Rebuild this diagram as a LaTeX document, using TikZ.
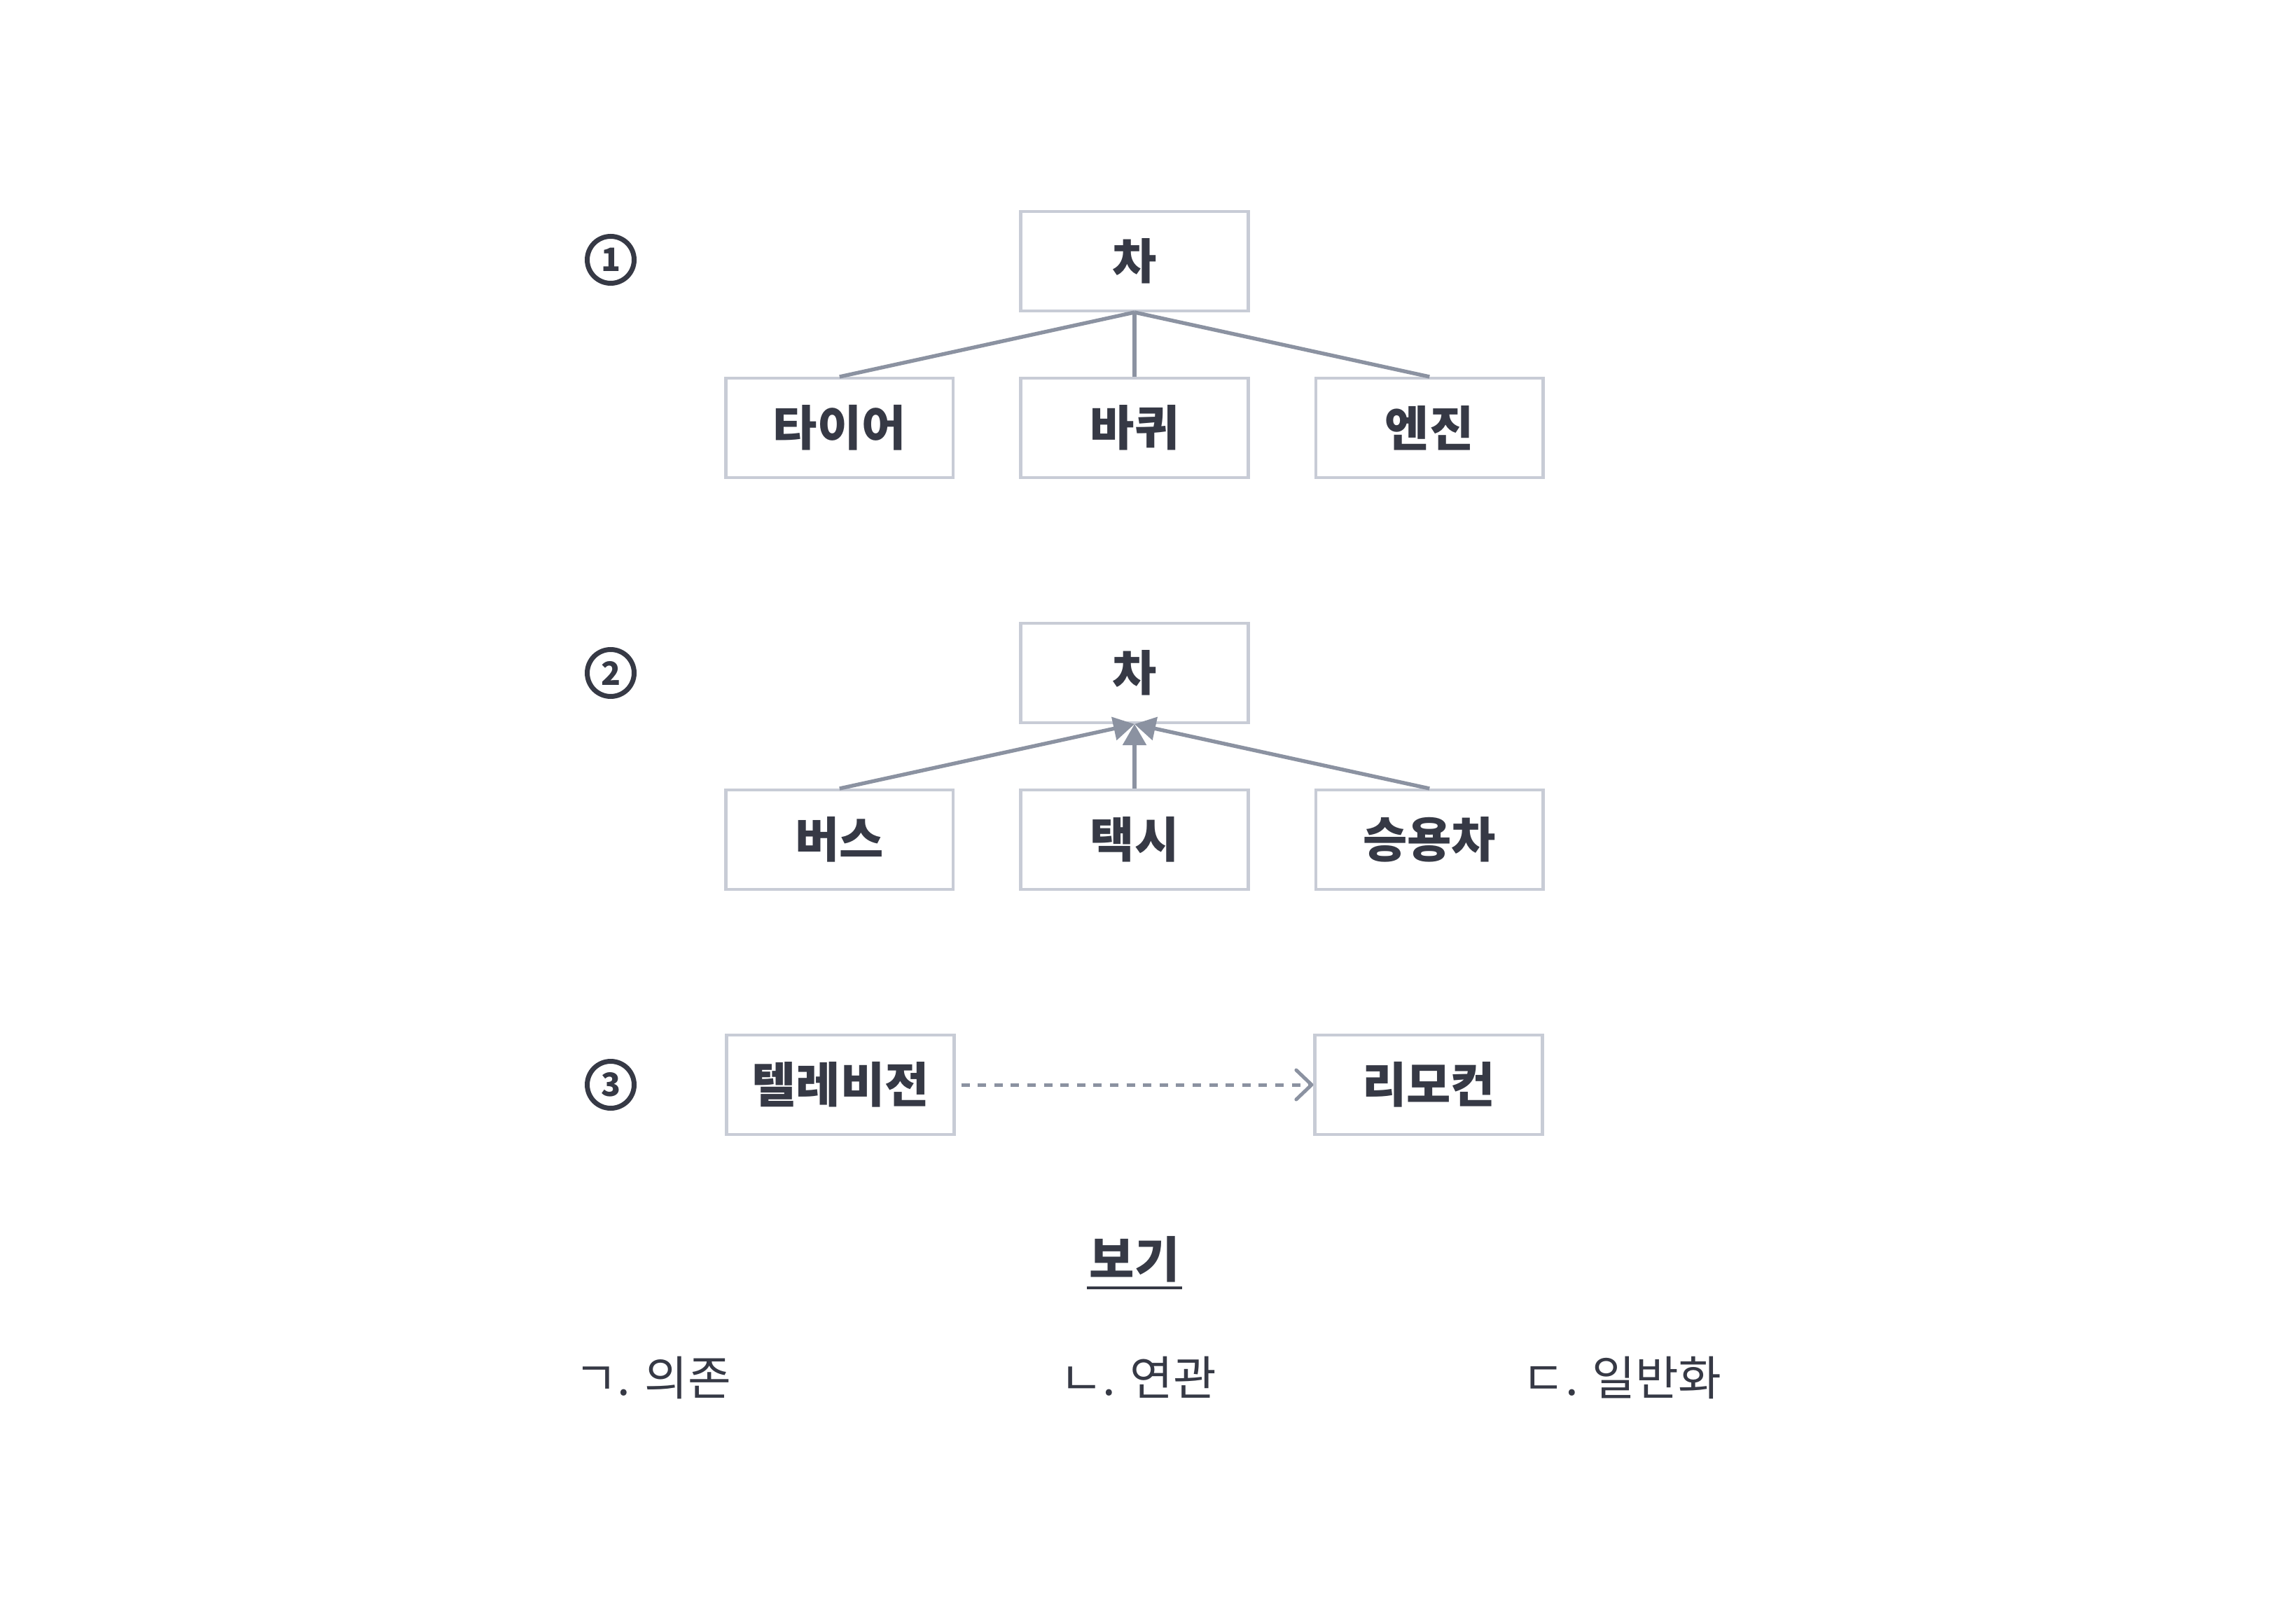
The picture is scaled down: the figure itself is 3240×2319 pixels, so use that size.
\documentclass[tikz,border=0pt]{standalone}
\usepackage{fontspec}
\setmainfont{Noto Sans CJK KR}
\usepackage{tikz}
\usetikzlibrary{arrows.meta}
\usetikzlibrary{positioning}
\definecolor{ink}{HTML}{363945}
\definecolor{boxline}{HTML}{C8CCD6}
\definecolor{wire}{HTML}{8B92A1}
\tikzstyle{part}=[-,line width=1.35pt,color=wire]
\tikzstyle{inherit}=[-{Triangle[length=7.5pt,width=8.25pt]},line width=1.35pt,color=wire]
\tikzstyle{uses}=[-{Straight Barb[length=5.5pt,width=10.5pt,round]},line width=1.25pt,color=wire,dash pattern=on 3pt off 2.9pt,shorten <=2pt]

\begin{document}
\begin{tikzpicture}[x=0.25pt,y=-0.25pt,node distance=23pt]
    \useasboundingbox (0,0) rectangle (3240,2319);
    % same size for every class box
    \tikzstyle{cls}=[draw=boxline,line width=1.1pt,fill=white,minimum width=81.2pt,minimum height=35.4pt,inner sep=0pt,font=\fontsize{17.2pt}{20pt}\selectfont\bfseries,text=ink]
    \tikzstyle{num}=[draw=ink,circle,line width=1.75pt,minimum size=16.75pt,inner sep=0pt,font=\fontsize{11.5pt}{12pt}\selectfont\bfseries,text=ink]
    \tikzstyle{choice}=[inner sep=0pt,font=\fontsize{16.75pt}{20pt}\selectfont,text=ink]

    % 1
    \node[num] (n1) at (872,371) {1};
    \node[cls] (car1) at (1620,373) {차};
    \node[cls] (wheel) [below=of car1] {바퀴};
    \node[cls] (tire) [left=of wheel] {타이어};
    \node[cls] (engine) [right=of wheel] {엔진};
    \draw[part] (tire.north) -- (car1.south);
    \draw[part] (wheel.north) -- (car1.south);
    \draw[part] (engine.north) -- (car1.south);

    % 2
    \node[num] (n2) at (872,961) {2};
    \node[cls] (car2) at (1620,961) {차};
    \node[cls] (taxi) [below=of car2] {택시};
    \node[cls] (bus) [left=of taxi] {버스};
    \node[cls] (sedan) [right=of taxi] {승용차};
    \draw[inherit] (bus.north) -- (car2.south);
    \draw[inherit] (taxi.north) -- (car2.south);
    \draw[inherit] (sedan.north) -- (car2.south);

    % 3
    \node[num] (n3) at (872,1549) {3};
    \node[cls] (tv) at (1200,1549) {텔레비전};
    \node[cls] (remote) at (2040,1549) {리모컨};
    \draw[uses] (tv.east) -- (remote.west);

    % 보기
    \node[inner xsep=0.6pt,inner ysep=0pt,font=\fontsize{17.5pt}{20pt}\selectfont\bfseries,text=ink] (bogi) at (1620,1798) {보기};
    \draw[line width=1pt,color=ink] ([yshift=-1.8pt]bogi.south west) -- ([yshift=-1.8pt]bogi.south east);
    \node[choice] (dep) at (932,1967) {ㄱ. 의존};
    \node[choice] (assoc) at (1625,1967) {ㄴ. 연관};
    \node[choice] (gen) at (2316,1967) {ㄷ. 일반화};
\end{tikzpicture}
\end{document}
